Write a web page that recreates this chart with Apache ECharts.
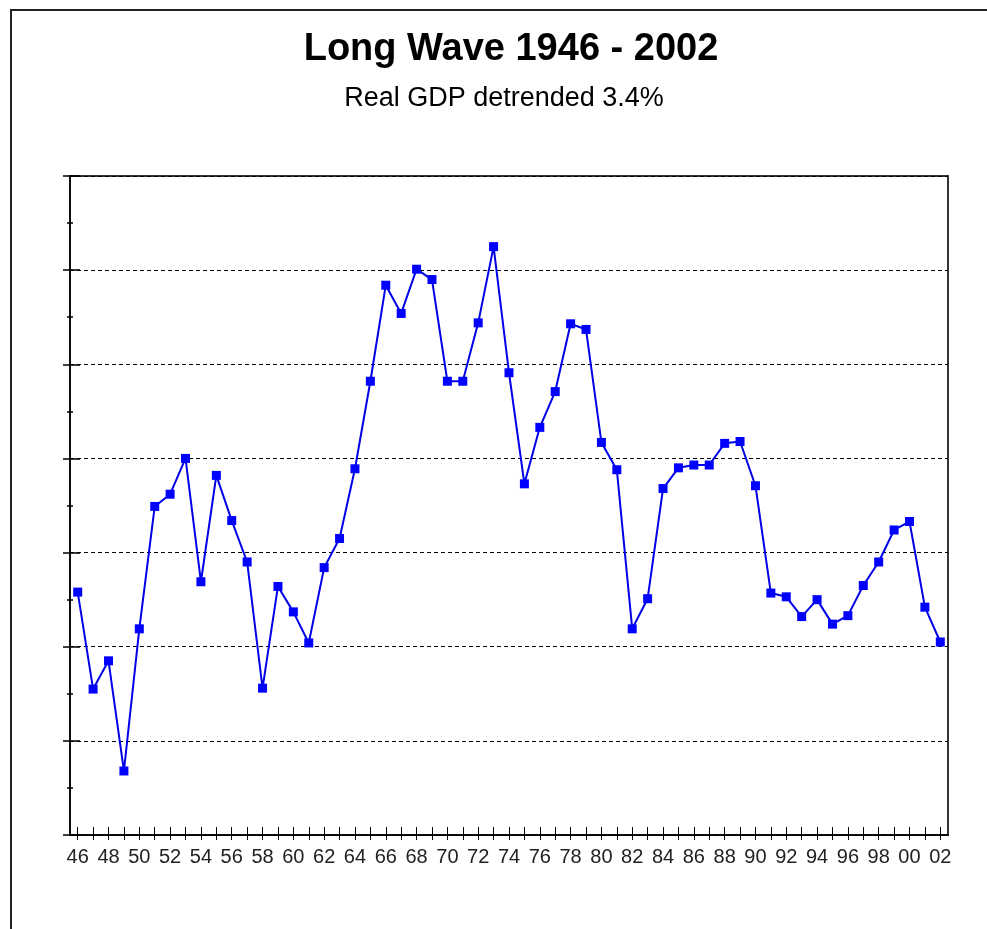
<!DOCTYPE html>
<html>
<head>
<meta charset="utf-8">
<script src="https://cdn.jsdelivr.net/npm/echarts@6/dist/echarts.min.js"></script>
<style>
html,body{margin:0;padding:0;background:#fff;}
#chart{width:987px;height:929px;}
</style>
</head>
<body>
<div id="chart"></div>
<script>
// Years 1946 - 2002 (two-digit labels)
var years = ['46','47','48','49','50','51','52','53','54','55','56','57','58','59',
  '60','61','62','63','64','65','66','67','68','69','70','71','72','73','74','75','76','77','78','79',
  '80','81','82','83','84','85','86','87','88','89','90','91','92','93','94','95','96','97','98','99',
  '00','01','02'];
// Real GDP detrended 3.4% (chart units, unlabeled axis, 0..7)
var gdpDetrended = [2.58,1.55,1.85,0.68,2.19,3.49,3.62,4.00,2.69,3.82,3.34,2.90,1.56,2.64,
  2.37,2.04,2.84,3.15,3.89,4.82,5.84,5.54,6.01,5.90,4.82,4.82,5.44,6.25,4.91,3.73,4.33,4.71,5.43,5.37,
  4.17,3.88,2.19,2.51,3.68,3.90,3.93,3.93,4.16,4.18,3.71,2.57,2.53,2.32,2.50,2.24,2.33,2.65,2.90,3.24,
  3.33,2.42,2.05];
var yMin = 0, yMax = 7, yStep = 1;

var chart = echarts.init(document.getElementById('chart'), null, {renderer:'canvas'});
var labelFont = '"Liberation Sans",Arial,sans-serif';
var gridBox = {left:70, right:39, top:176, bottom:94};
var hiddenLine = {show:true, lineStyle:{color:'#000', width:1, opacity:0}};
chart.setOption({
  animation:false,
  backgroundColor:'#fff',
  title:[
    {text:'Long Wave 1946 - 2002', left:506, top:26, textAlign:'center',
     textStyle:{fontFamily:'"Liberation Sans",Arial,sans-serif', fontWeight:'bold', fontSize:38, color:'#000'}},
    {text:'Real GDP detrended 3.4%', left:499, top:80, textAlign:'center',
     textStyle:{fontFamily:'"Liberation Sans",Arial,sans-serif', fontWeight:'normal', fontSize:27, color:'#000'}}
  ],
  graphic:[
    {type:'rect', z:100, silent:true, shape:{x:11, y:10, width:1100, height:1100},
     style:{fill:'none', stroke:'#222', lineWidth:2}}
  ],
  grid:[
    Object.assign({show:true, borderColor:'#333', borderWidth:2, backgroundColor:'transparent'}, gridBox),
    Object.assign({show:false}, gridBox)
  ],
  xAxis:[
    {type:'category', data:years, boundaryGap:true, position:'bottom', gridIndex:0,
     axisLine:{show:true, lineStyle:{color:'#000', width:1.5}},
     axisTick:{show:true, alignWithLabel:true, interval:0, inside:false, length:5, lineStyle:{color:'#000', width:1}},
     axisLabel:{interval:1, margin:12, fontFamily:labelFont, fontSize:20, color:'#222'},
     splitLine:{show:false}},
    {type:'category', data:years, boundaryGap:true, position:'bottom', gridIndex:1,
     axisLine:hiddenLine,
     axisTick:{show:true, alignWithLabel:true, interval:0, inside:true, length:8, lineStyle:{color:'#000', width:1}},
     axisLabel:{show:false}, splitLine:{show:false}}
  ],
  yAxis:[
    {type:'value', min:yMin, max:yMax, interval:yStep, position:'left', gridIndex:0,
     axisLine:{show:true, lineStyle:{color:'#000', width:1.5}},
     axisTick:{show:true, inside:false, length:7, lineStyle:{color:'#000', width:1.5}},
     minorTick:{show:true, splitNumber:2, length:3, lineStyle:{color:'#000', width:1.5}},
     axisLabel:{show:false},
     splitLine:{show:true, lineStyle:{color:'#000', width:1, type:[4,3]}}},
    {type:'value', min:yMin, max:yMax, interval:yStep, position:'left', gridIndex:1,
     axisLine:hiddenLine,
     axisTick:{show:true, inside:true, length:10, lineStyle:{color:'#000', width:1.5}},
     minorTick:{show:true, splitNumber:2, length:3, lineStyle:{color:'#000', width:1.5}},
     axisLabel:{show:false}, splitLine:{show:false}}
  ],
  series:[
    {type:'line', data:gdpDetrended, xAxisIndex:0, yAxisIndex:0,
     symbol:'rect', symbolSize:9, showSymbol:true,
     lineStyle:{color:'#0000E6', width:2},
     itemStyle:{color:'#0000FF', borderWidth:0},
     z:5}
  ]
});
</script>
</body>
</html>
